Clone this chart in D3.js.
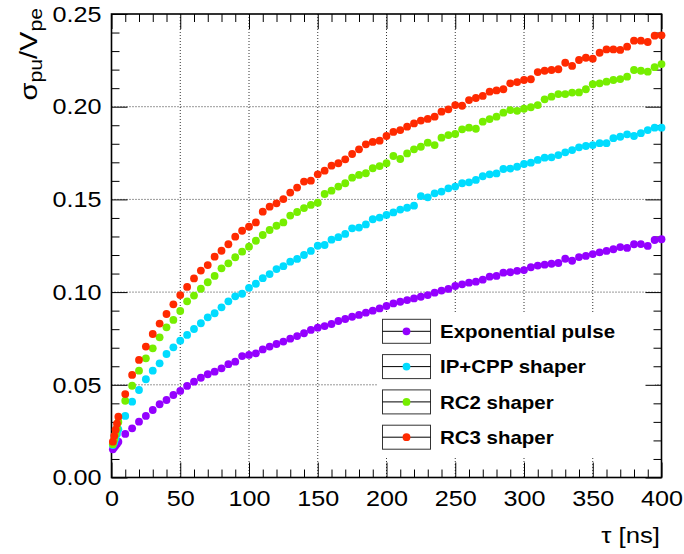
<!DOCTYPE html>
<html>
<head>
<meta charset="utf-8">
<script src="https://cdn.jsdelivr.net/npm/d3@7"></script>
<style>
  html, body { margin: 0; padding: 0; background: #fff; }
  svg text { font-family: "Liberation Sans", Arial, Helvetica, sans-serif; fill: #000; }
</style>
</head>
<body>
<svg id="chart" width="684" height="554"></svg>
<script>
// pile-up width vs shaping time
var tau = [
    1, 2, 3, 4, 5,
    10, 15, 20, 25, 30, 35, 40, 45, 50,
    55, 60, 65, 70, 75, 80, 85, 90, 95, 100,
    105, 110, 115, 120, 125, 130, 135, 140, 145, 150,
    155, 160, 165, 170, 175, 180, 185, 190, 195, 200,
    205, 210, 215, 220, 225, 230, 235, 240, 245, 250,
    255, 260, 265, 270, 275, 280, 285, 290, 295, 300,
    305, 310, 315, 320, 325, 330, 335, 340, 345, 350,
    355, 360, 365, 370, 375, 380, 385, 390, 395, 400
];

var expPulse = [
    0.0152, 0.0163, 0.0172, 0.0182, 0.0193,
    0.0235, 0.0265, 0.0301, 0.0332, 0.0364, 0.0395, 0.0418, 0.0445, 0.0467,
    0.0494, 0.0517, 0.0538, 0.0557, 0.0571, 0.0589, 0.0611, 0.0625, 0.0655, 0.0661,
    0.0670, 0.0691, 0.0706, 0.0720, 0.0733, 0.0749, 0.0763, 0.0778, 0.0796, 0.0808,
    0.0817, 0.0828, 0.0844, 0.0855, 0.0867, 0.0877, 0.0889, 0.0900, 0.0912, 0.0925,
    0.0939, 0.0948, 0.0957, 0.0966, 0.0975, 0.0984, 0.0997, 0.1008, 0.1017, 0.1033,
    0.1042, 0.1051, 0.1056, 0.1067, 0.1083, 0.1087, 0.1105, 0.1107, 0.1115, 0.1119,
    0.1134, 0.1143, 0.1148, 0.1153, 0.1157, 0.1180, 0.1169, 0.1189, 0.1195, 0.1205,
    0.1214, 0.1222, 0.1231, 0.1243, 0.1238, 0.1258, 0.1259, 0.1249, 0.1281, 0.1285
];

var ipCpp = [
    0.0175, 0.0190, 0.0210, 0.0235, 0.0260,
    0.0332, 0.0409, 0.0472, 0.0530, 0.0576, 0.0616, 0.0666, 0.0702, 0.0738,
    0.0769, 0.0801, 0.0832, 0.0864, 0.0886, 0.0918, 0.0950, 0.0977, 0.0991, 0.1023,
    0.1045, 0.1075, 0.1097, 0.1124, 0.1140, 0.1164, 0.1179, 0.1200, 0.1222, 0.1250,
    0.1254, 0.1283, 0.1296, 0.1314, 0.1344, 0.1348, 0.1365, 0.1393, 0.1402, 0.1416,
    0.1430, 0.1445, 0.1455, 0.1466, 0.1518, 0.1511, 0.1533, 0.1542, 0.1560, 0.1569,
    0.1587, 0.1592, 0.1605, 0.1625, 0.1635, 0.1640, 0.1664, 0.1666, 0.1676, 0.1691,
    0.1698, 0.1713, 0.1725, 0.1727, 0.1739, 0.1754, 0.1766, 0.1781, 0.1788, 0.1793,
    0.1803, 0.1803, 0.1830, 0.1838, 0.1851, 0.1842, 0.1857, 0.1874, 0.1887, 0.1887
];

var rc2 = [
    0.0180, 0.0205, 0.0235, 0.0265, 0.0300,
    0.0414, 0.0495, 0.0576, 0.0643, 0.0697, 0.0756, 0.0810, 0.0850, 0.0898,
    0.0950, 0.0981, 0.1018, 0.1053, 0.1087, 0.1128, 0.1155, 0.1188, 0.1218, 0.1245,
    0.1277, 0.1308, 0.1335, 0.1358, 0.1376, 0.1413, 0.1432, 0.1453, 0.1470, 0.1482,
    0.1529, 0.1547, 0.1569, 0.1587, 0.1617, 0.1632, 0.1641, 0.1668, 0.1680, 0.1695,
    0.1734, 0.1718, 0.1748, 0.1770, 0.1784, 0.1806, 0.1793, 0.1833, 0.1847, 0.1853,
    0.1878, 0.1887, 0.1881, 0.1919, 0.1933, 0.1946, 0.1968, 0.1982, 0.1978, 0.1989,
    0.1997, 0.2009, 0.2040, 0.2054, 0.2068, 0.2068, 0.2076, 0.2077, 0.2094, 0.2121,
    0.2126, 0.2135, 0.2144, 0.2149, 0.2162, 0.2198, 0.2194, 0.2189, 0.2213, 0.2230
];

var rc3 = [
    0.0193, 0.0225, 0.0258, 0.0290, 0.0328,
    0.0450, 0.0553, 0.0634, 0.0706, 0.0774, 0.0830, 0.0882, 0.0934, 0.0984,
    0.1028, 0.1074, 0.1116, 0.1146, 0.1191, 0.1223, 0.1258, 0.1299, 0.1331, 0.1353,
    0.1376, 0.1434, 0.1461, 0.1479, 0.1502, 0.1537, 0.1564, 0.1596, 0.1601, 0.1635,
    0.1655, 0.1682, 0.1695, 0.1716, 0.1745, 0.1770, 0.1797, 0.1810, 0.1817, 0.1842,
    0.1864, 0.1874, 0.1892, 0.1910, 0.1925, 0.1934, 0.1946, 0.1973, 0.1986, 0.2009,
    0.2005, 0.2036, 0.2047, 0.2058, 0.2081, 0.2088, 0.2094, 0.2126, 0.2133, 0.2144,
    0.2148, 0.2187, 0.2194, 0.2198, 0.2202, 0.2237, 0.2220, 0.2252, 0.2264, 0.2259,
    0.2291, 0.2309, 0.2309, 0.2306, 0.2324, 0.2356, 0.2356, 0.2349, 0.2383, 0.2385
];

var seriesNames = ['Exponential pulse', 'IP+CPP shaper', 'RC2 shaper', 'RC3 shaper'];
var seriesColors = ['#9400ff', '#00dcff', '#76ee00', '#ff2a00'];
var seriesValues = [expPulse, ipCpp, rc2, rc3];

var xMajor = [0, 50, 100, 150, 200, 250, 300, 350, 400];
var yMajor = [0, 0.05, 0.10, 0.15, 0.20, 0.25];

(function () {

    var frameLeft = 111.5, frameRight = 661.5, frameTop = 14, frameBottom = 477.5;
    var stretch = 1.12;   // the original font renders wider than Liberation Sans
    var dotRadius = 3.9;

    var svg = d3.select('#chart');

    var xScale = d3.scaleLinear().domain([0, 400]).range([frameLeft, frameRight]);
    var yScale = d3.scaleLinear().domain([0, 0.25]).range([frameBottom, frameTop]);

    var xMinor = d3.range(0, 401, 10).filter(function (d) { return d % 50 !== 0; });
    var yMinor = d3.range(0, 26, 1).filter(function (d) { return d % 5 !== 0; })
        .map(function (d) { return d / 100; });

    // dotted grid
    var grid = svg.append('g').attr('class', 'grid')
        .attr('stroke', '#333')
        .attr('stroke-width', 1)
        .attr('stroke-dasharray', '1,2');

    grid.selectAll('.vgrid')
        .data(xMajor.slice(1, -1))
        .enter().append('line')
        .attr('x1', function (d) { return xScale(d); })
        .attr('x2', function (d) { return xScale(d); })
        .attr('y1', frameTop)
        .attr('y2', frameBottom);

    grid.selectAll('.hgrid')
        .data(yMajor.slice(1, -1))
        .enter().append('line')
        .attr('x1', frameLeft)
        .attr('x2', frameRight)
        .attr('y1', function (d) { return yScale(d); })
        .attr('y2', function (d) { return yScale(d); });

    // legend background hides the grid
    svg.append('rect')
        .attr('x', 377)
        .attr('y', 313)
        .attr('width', 278)
        .attr('height', 144)
        .attr('fill', '#fff');

    var axes = function () {
        var g;

        g = svg.append('g').attr('transform', 'translate(0,' + frameBottom + ')')
            .call(d3.axisBottom(xScale).tickValues(xMajor).tickSize(-15).tickSizeOuter(0)
                .tickPadding(12.5).tickFormat(d3.format('d')));
        g.selectAll('text')
            .attr('font-size', '22.5px')
            .attr('transform', 'scale(' + stretch + ',1)');

        svg.append('g').attr('transform', 'translate(0,' + frameBottom + ')')
            .call(d3.axisBottom(xScale).tickValues(xMinor).tickSize(-8).tickSizeOuter(0).tickFormat(''));

        g = svg.append('g').attr('transform', 'translate(' + frameLeft + ',0)')
            .call(d3.axisLeft(yScale).tickValues(yMajor).tickSize(-16).tickSizeOuter(0)
                .tickPadding(10).tickFormat(d3.format('.2f')));
        g.selectAll('text')
            .attr('font-size', '22.5px')
            .attr('x', -10 / stretch)
            .attr('transform', 'scale(' + stretch + ',1)');

        svg.append('g').attr('transform', 'translate(' + frameLeft + ',0)')
            .call(d3.axisLeft(yScale).tickValues(yMinor).tickSize(-8).tickSizeOuter(0).tickFormat(''));

        svg.append('g').attr('transform', 'translate(0,' + frameTop + ')')
            .call(d3.axisTop(xScale).tickValues(xMajor).tickSize(-15).tickSizeOuter(0).tickFormat(''));
        svg.append('g').attr('transform', 'translate(0,' + frameTop + ')')
            .call(d3.axisTop(xScale).tickValues(xMinor).tickSize(-8).tickSizeOuter(0).tickFormat(''));

        svg.append('g').attr('transform', 'translate(' + frameRight + ',0)')
            .call(d3.axisRight(yScale).tickValues(yMajor).tickSize(-16).tickSizeOuter(0).tickFormat(''));
        svg.append('g').attr('transform', 'translate(' + frameRight + ',0)')
            .call(d3.axisRight(yScale).tickValues(yMinor).tickSize(-8).tickSizeOuter(0).tickFormat(''));

        svg.selectAll('.domain').remove();
        svg.selectAll('.tick line').attr('stroke', '#000').attr('stroke-width', 1);

        svg.append('rect')
            .attr('x', frameLeft)
            .attr('y', frameTop)
            .attr('width', frameRight - frameLeft)
            .attr('height', frameBottom - frameTop)
            .attr('fill', 'none')
            .attr('stroke', '#000')
            .attr('stroke-width', 1.6);
    };

    axes();

    // markers
    seriesValues.forEach(function (values, i) {
        svg.append('g')
            .attr('fill', seriesColors[i])
            .selectAll('circle')
            .data(values)
            .enter().append('circle')
            .attr('cx', function (d, j) { return xScale(tau[j]); })
            .attr('cy', function (d) { return yScale(d); })
            .attr('r', dotRadius);
    });

    // legend
    var legend = svg.append('g').attr('class', 'legend');
    var entryY = function (i) { return 331.3 + i * 35.3; };

    seriesNames.forEach(function (name, i) {
        var cy = entryY(i);
        legend.append('rect')
            .attr('x', 382.5)
            .attr('y', cy - 12)
            .attr('width', 48)
            .attr('height', 24)
            .attr('fill', 'none')
            .attr('stroke', '#333')
            .attr('stroke-width', 1);
        legend.append('line')
            .attr('x1', 382.5)
            .attr('x2', 430.5)
            .attr('y1', cy)
            .attr('y2', cy)
            .attr('stroke', '#000')
            .attr('stroke-width', 1);
        legend.append('circle')
            .attr('cx', 406.5)
            .attr('cy', cy)
            .attr('r', dotRadius)
            .attr('fill', seriesColors[i]);
        legend.append('text')
            .attr('transform', 'translate(440,' + (cy + 6.7) + ') scale(1.1,1)')
            .attr('font-size', '18.6px')
            .attr('font-weight', 'bold')
            .text(name);
    });

    // axis titles
    svg.append('text')
        .attr('transform', 'translate(660,543) scale(' + stretch + ',1)')
        .attr('text-anchor', 'end')
        .attr('font-size', '23px')
        .text('\u03c4 [ns]');

    var ytitle = svg.append('text')
        .attr('transform', 'translate(37,8) rotate(-90) scale(1.18,1)')
        .attr('text-anchor', 'end')
        .attr('font-size', '24.5px');
    ytitle.append('tspan').text('\u03c3');
    ytitle.append('tspan').attr('font-size', '18px').attr('dy', '5').text('pu');
    ytitle.append('tspan').attr('dy', '-5').text('/V');
    ytitle.append('tspan').attr('font-size', '18px').attr('dy', '5').text('pe');

})();
</script>
</body>
</html>
